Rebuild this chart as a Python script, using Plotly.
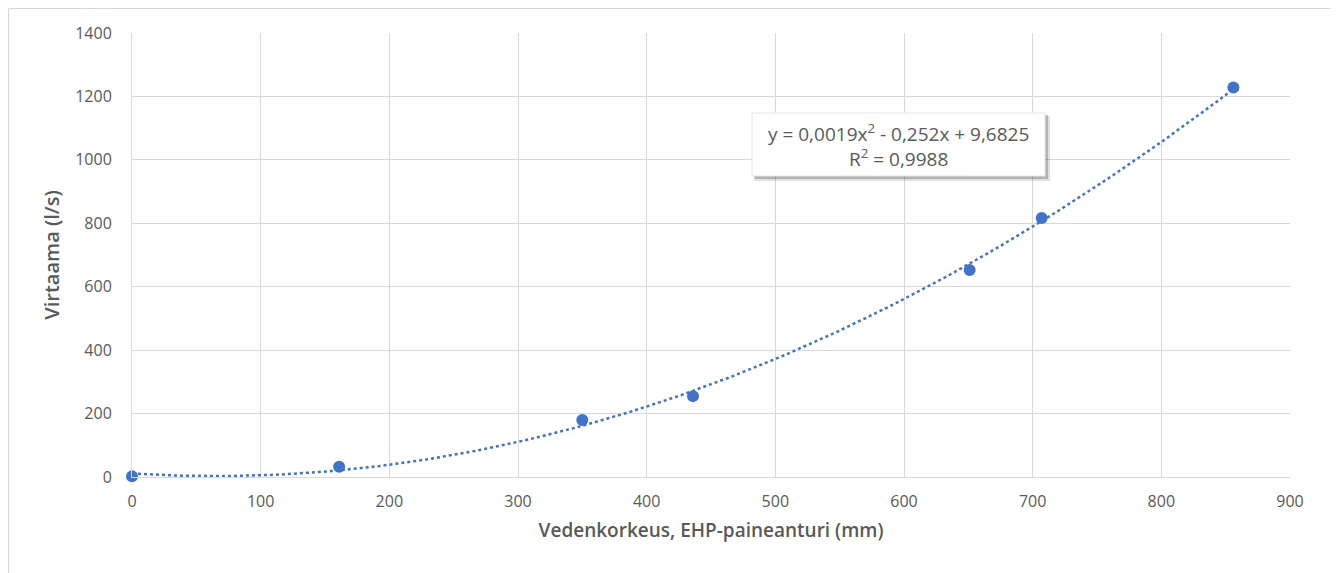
import numpy as np
import plotly.graph_objects as go

# Data
water_level_mm = [0, 161, 350, 436, 651, 707, 856]
flow_ls = [2, 32, 180, 255, 653, 817, 1228]

x_ticks = [0, 100, 200, 300, 400, 500, 600, 700, 800, 900]
y_ticks = [0, 200, 400, 600, 800, 1000, 1200, 1400]

eq_text = "y = 0,0019x<sup>2</sup> - 0,252x + 9,6825<br>R<sup>2</sup> = 0,9988"

BLUE = "#4472C4"
GRAY = "#595959"
GRID = "#D9D9D9"
FONT = "Open Sans"

# Polynomial (order 2) trendline fitted to the data, as the spreadsheet does
coef = np.polyfit(water_level_mm, flow_ls, 2)
xt = np.linspace(0, max(water_level_mm), 200)
yt = np.polyval(coef, xt)

fig = go.Figure()
fig.add_trace(go.Scatter(x=xt, y=yt, mode="lines",
                         line=dict(color=BLUE, width=2.5, dash="dot"),
                         hoverinfo="skip", showlegend=False, cliponaxis=False))
fig.add_trace(go.Scatter(x=water_level_mm, y=flow_ls, mode="markers",
                         marker=dict(color=BLUE, size=12), showlegend=False,
                         cliponaxis=False))

# page offset of the figure (body margin) and plot area geometry in page pixels
OFF = 8
L, R, T, B = 132, 1290, 33, 477
W, H = 1339, 573
def px2x(px):
    return (px - L) / (R - L) * 900
def px2y(py):
    return (B - py) / (B - T) * 1400

shapes = [
    # outer chart border (bottom edge lies below the visible page)
    dict(type="rect", xref="paper", yref="paper",
         x0=(8.5 - L) / (R - L), x1=(1331.5 - L) / (R - L),
         y0=(B - 580) / (B - T), y1=(B - 8.5) / (B - T),
         line=dict(color="#D9D9D9", width=1), fillcolor="rgba(0,0,0,0)", layer="below"),
    # soft shadow of label box
    dict(type="rect", xref="x", yref="y",
         x0=px2x(755), x1=px2x(1050), y0=px2y(181), y1=px2y(116),
         line=dict(width=0), fillcolor="rgba(0,0,0,0.12)", layer="above"),
    dict(type="rect", xref="x", yref="y",
         x0=px2x(754), x1=px2x(1048), y0=px2y(179), y1=px2y(115),
         line=dict(width=0), fillcolor="rgba(0,0,0,0.2)", layer="above"),
    # label box
    dict(type="rect", xref="x", yref="y",
         x0=px2x(752), x1=px2x(1045), y0=px2y(176), y1=px2y(113),
         line=dict(color="#E6E6E6", width=1), fillcolor="white", layer="above"),
]

fig.add_annotation(x=px2x(898), y=px2y(145), xref="x", yref="y",
                   text=eq_text, showarrow=False, align="center",
                   font=dict(family=FONT, size=19, color=GRAY))

fig.update_layout(
    width=W - OFF, height=H - OFF,
    margin=dict(l=L - OFF, r=W - R, t=T - OFF, b=H - B),
    paper_bgcolor="white", plot_bgcolor="white",
    font=dict(family=FONT, color=GRAY, size=16),
    shapes=shapes,
    xaxis=dict(range=[0, 900], tickvals=x_ticks, showgrid=True, gridcolor=GRID,
               gridwidth=1, zeroline=False, showline=True, linecolor=GRID,
               ticks="", ticklabelstandoff=10, tickfont=dict(size=16, color=GRAY),
               title=dict(text="Vedenkorkeus, EHP-paineanturi (mm)",
                          font=dict(size=19, color=GRAY, weight=600), standoff=12)),
    yaxis=dict(range=[0, 1400], tickvals=y_ticks, showgrid=True, gridcolor=GRID,
               gridwidth=1, zeroline=False, showline=True, linecolor=GRID,
               ticks="", ticklabelstandoff=16, tickfont=dict(size=16, color=GRAY),
               title=dict(text="Virtaama (l/s)", font=dict(size=20, color=GRAY, weight=600),
                          standoff=10)),
)

fig.write_html("out.html")
